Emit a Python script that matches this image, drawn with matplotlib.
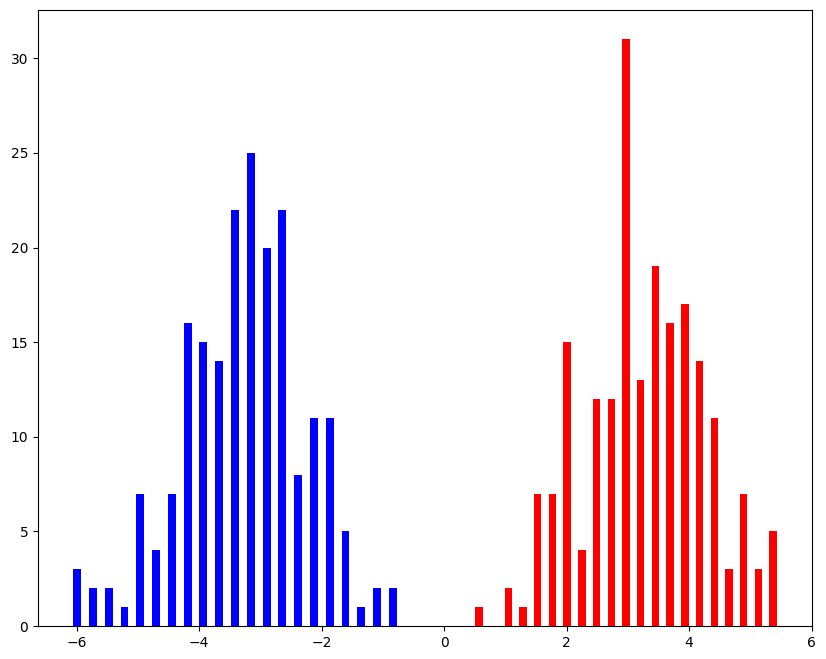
import numpy as np
import matplotlib.pyplot as plt

# Histogramme de deux groupes (comptes)
blue_counts = [3, 2, 2, 1, 7, 4, 7, 16, 15, 14, 22, 25, 20, 22, 8, 11, 11, 5, 1, 2, 2]
red_counts = [1, 0, 2, 1, 7, 7, 15, 4, 12, 12, 31, 13, 19, 16, 17, 14, 11, 3, 7, 3, 5]

# Centres des classes
blue_first, blue_last = -5.99, -0.835
red_first, red_last = 0.568, 5.372

blue_x = np.linspace(blue_first, blue_last, len(blue_counts))
red_x = np.linspace(red_first, red_last, len(red_counts))
blue_w = 0.5 * (blue_x[1] - blue_x[0])
red_w = 0.5 * (red_x[1] - red_x[0])

fig = plt.figure(figsize=(8.26, 6.59), dpi=100)
ax = fig.add_axes([38 / 826, 33 / 659, 774 / 826, 616 / 659])

ax.bar(blue_x, blue_counts, width=blue_w, color='blue')
ax.bar(red_x, red_counts, width=red_w, color='red')

fig.savefig('out.png')
